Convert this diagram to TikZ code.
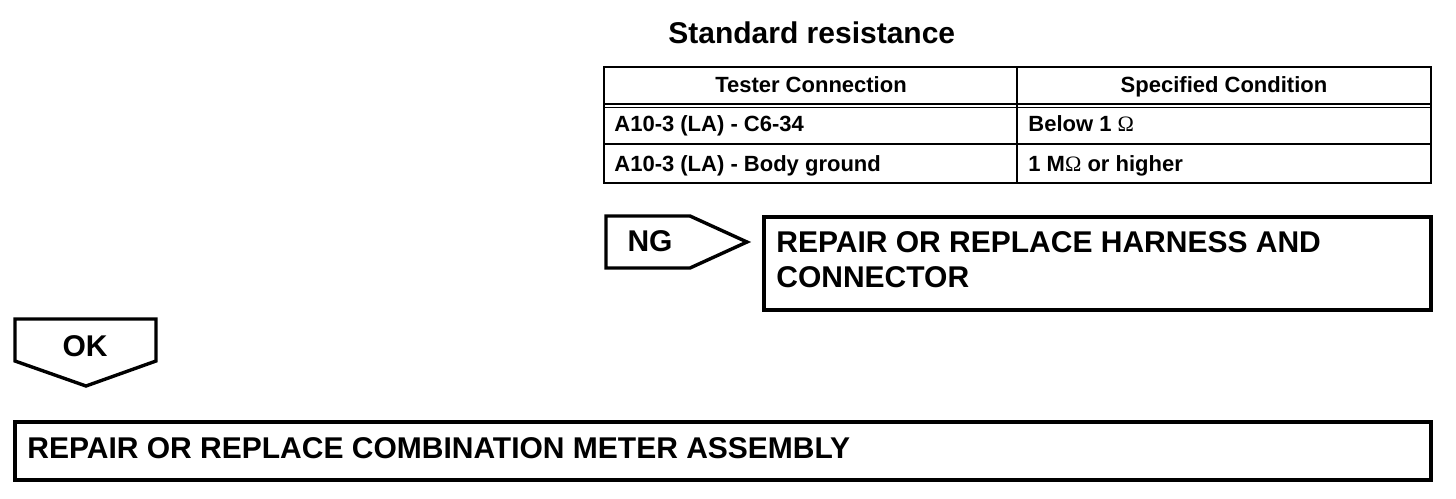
\documentclass[tikz,border=0pt]{standalone}
\usepackage{fontspec}
\setmainfont{Liberation Sans}
\newfontfamily\omegafont{Liberation Serif}
\usetikzlibrary{positioning}
\tikzset{big/.style={font=\fontsize{15}{17.5}\selectfont\bfseries, inner sep=0pt}, cell/.style={font=\fontsize{11}{13}\selectfont\bfseries, inner sep=0pt}, flag/.style={draw, line width=1.7pt, line join=miter}, grid/.style={line width=0.9pt}}
\newcommand{\ohm}{{\omegafont\mdseries Ω}}

\begin{document}
\begin{tikzpicture}[x=0.5pt, y=-0.5pt]
  \useasboundingbox (0,0) rectangle (1456,498);

  % title
  \node[big, anchor=base west] (title) at (668,43) {Standard resistance};

  % table
  \draw[grid] (604,67) rectangle (1431,183);
  \draw[grid] (1017,67) -- (1017,183);
  \draw[line width=0.6pt] (604,104) -- (1431,104);
  \draw[line width=0.6pt] (604,107.5) -- (1431,107.5);
  \draw[grid] (604,144) -- (1431,144);
  \node[cell, anchor=base] (hconn) at (811,92) {Tester Connection};
  \node[cell, anchor=base] (hcond) at (1224,92) {Specified Condition};
  \node[cell, anchor=base west] (conn1) at (614,131) {A10-3 (LA) - C6-34};
  \node[cell, anchor=base west] (cond1) at (1028,131) {Below 1 \ohm};
  \node[cell, anchor=base west] (conn2) at (614,171) {A10-3 (LA) - Body ground};
  \node[cell, anchor=base west] (cond2) at (1028,171) {1 M\ohm{} or higher};

  % NG
  \draw[flag] (606,216) -- (690,216) -- (747,242) -- (690,268) -- (606,268) -- cycle;
  \node[big, anchor=base] (ng) at (650,251) {NG};
  \draw[flag, line width=2pt] (764,217) rectangle (1430.5,310);
  \node[big, anchor=base west, align=left] (harness) at (776,287) {REPAIR OR REPLACE HARNESS AND\\CONNECTOR};

  % OK
  \draw[flag] (15,319) -- (156,319) -- (156,361) -- (86,386) -- (15,361) -- cycle;
  \node[big, anchor=base] (ok) at (85,356) {OK};
  \draw[flag] (15,422) rectangle (1431,480);
  \node[big, anchor=base west] (meter) at (27,458) {REPAIR OR REPLACE COMBINATION METER ASSEMBLY};

\end{tikzpicture}
\end{document}
